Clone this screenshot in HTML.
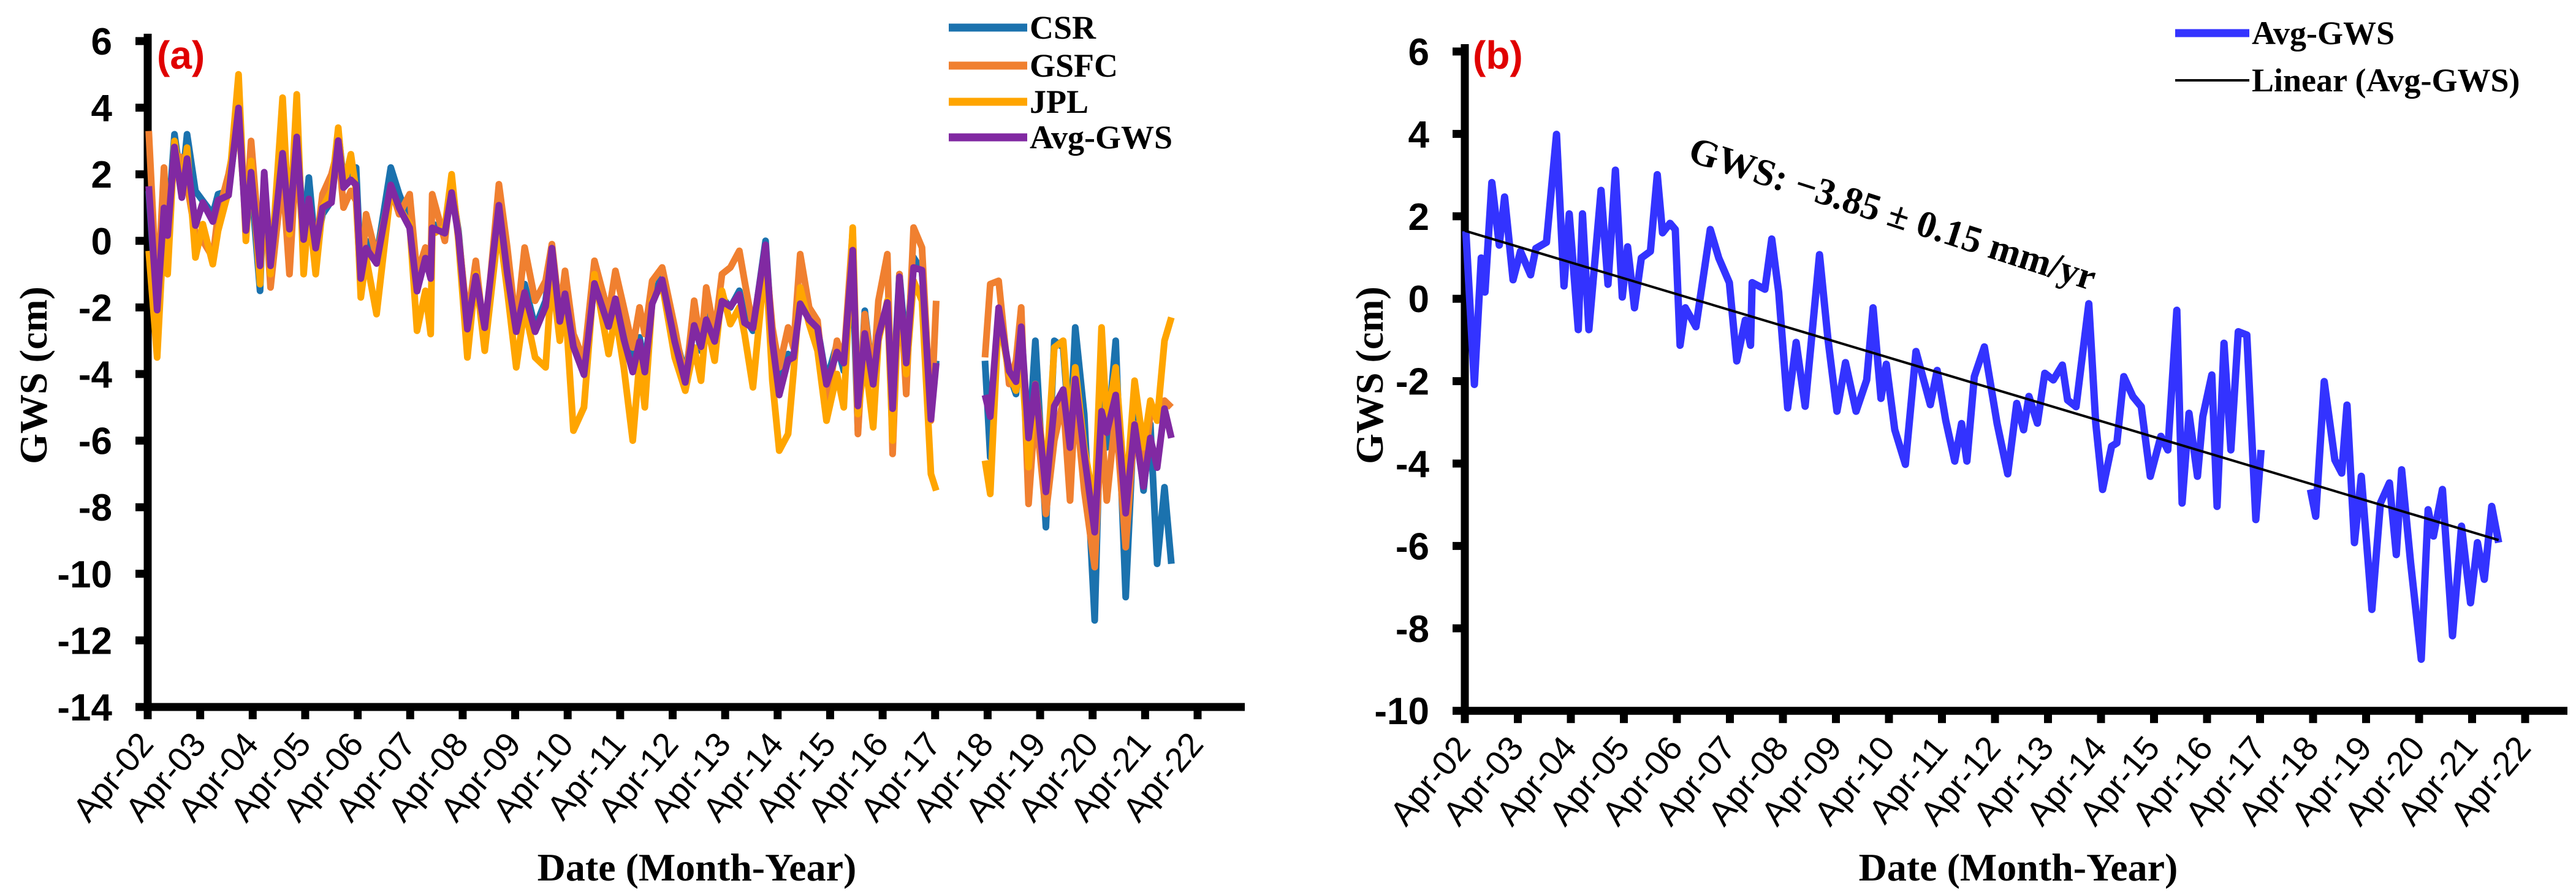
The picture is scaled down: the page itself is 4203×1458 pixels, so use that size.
<!DOCTYPE html>
<html><head><meta charset="utf-8"><style>
html,body{margin:0;padding:0;background:#fff;}
svg{display:block;}
.tk{font-family:"Liberation Sans",Arial,sans-serif;font-weight:bold;font-size:62px;}
.xt{font-family:"Liberation Sans",Arial,sans-serif;font-size:56px;}
.tt{font-family:"Liberation Serif","Times New Roman",serif;font-weight:bold;}
</style></head><body>
<svg id="chart" width="4203" height="1458" viewBox="0 0 4203 1458" xmlns="http://www.w3.org/2000/svg">
<g id="pa"></g>
<g id="pb"></g>
</svg>
<script>
const tYears=[0.02,0.18,0.31,0.38,0.51,0.65,0.75,0.91,1.05,1.24,
1.34,1.54,1.73,1.87,1.97,2.14,2.22,2.34,2.57,2.70,
2.84,2.97,3.07,3.20,3.33,3.50,3.63,3.73,3.87,3.97,
4.06,4.16,4.36,4.63,4.79,4.99,5.13,5.29,5.39,5.42,
5.66,5.79,5.92,6.09,6.25,6.42,6.69,6.85,7.02,7.18,
7.38,7.58,7.70,7.85,7.95,8.11,8.31,8.51,8.78,8.91,
9.07,9.24,9.37,9.47,9.61,9.80,10.04,10.24,10.41,10.54,
10.64,10.80,10.94,11.10,11.27,11.37,11.53,11.77,11.90,12.03,
12.20,12.30,12.43,12.60,12.76,12.93,13.13,13.26,13.43,13.53,
13.66,13.82,13.92,14.09,14.19,14.32,14.45,14.59,14.75,14.92,
15.02,15.95,16.05,16.21,16.41,16.54,16.64,16.78,16.91,17.11,
17.27,17.44,17.57,17.67,17.84,18.04,18.17,18.27,18.44,18.63,
18.80,18.97,19.10,19.23,19.37,19.50];
const avgGWS=[1.64,-2.08,0.99,0.16,2.82,1.30,2.47,0.46,1.15,0.58,
1.22,1.37,3.99,0.31,2.06,-0.75,2.06,-0.75,2.63,0.35,
3.12,0.04,1.26,-0.22,0.99,1.15,3.01,1.60,1.83,1.68,
-1.13,-0.22,-0.68,1.68,0.99,0.39,-1.51,-0.52,-1.13,0.39,
0.23,1.45,0.16,-2.65,-1.06,-2.61,1.07,-0.98,-2.73,-1.55,
-2.73,-1.97,-0.22,-2.42,-1.59,-3.18,-4.02,-1.28,-2.57,-1.74,
-2.95,-3.94,-3.03,-3.94,-1.89,-1.17,-3.03,-4.25,-2.54,-3.18,
-2.37,-3.02,-1.81,-1.97,-1.61,-2.46,-2.62,-0.12,-3.02,-4.63,
-3.58,-3.50,-1.89,-2.37,-2.62,-4.31,-3.34,-3.67,-0.28,-4.96,
-2.78,-4.31,-2.86,-1.85,-5.04,-1.08,-3.67,-0.80,-0.88,-5.36,
-3.67,-4.63,-5.28,-2.01,-3.91,-4.23,-2.58,-5.92,-4.31,-7.54,
-4.96,-4.47,-6.21,-4.15,-6.41,-8.75,-5.12,-5.76,-4.63,-8.18,
-5.52,-7.38,-5.92,-6.81,-5.04,-5.92];
const csrGWS=[1.5,-2.2,1.2,0.3,3.2,1.6,3.2,1.5,1.2,0.8,
1.4,1.5,3.8,0.5,1.8,-1.5,1.9,-0.9,2.5,0.6,
3.3,0.2,1.9,-0.3,0.8,1.2,3.3,1.8,2.0,2.2,
-0.9,0.0,-0.5,2.2,1.4,0.6,-1.3,-0.3,-0.8,0.5,
0.4,1.6,0.3,-2.6,-1.0,-3.2,0.8,-1.0,-2.5,-1.3,
-2.6,-1.8,-0.3,-2.2,-1.5,-3.0,-3.8,-1.2,-2.4,-1.8,
-2.8,-3.6,-2.9,-3.8,-1.8,-1.0,-2.8,-4.0,-2.3,-3.3,
-2.2,-3.1,-1.7,-2.0,-1.5,-2.3,-2.7,0.0,-3.0,-4.4,
-3.4,-3.6,-1.6,-2.2,-2.6,-4.2,-3.1,-3.9,-1.0,-5.7,
-2.1,-4.2,-2.6,-2.0,-4.8,-1.0,-3.4,-0.5,-0.9,-5.0,
-3.6,-3.6,-6.5,-2.1,-4.0,-4.6,-2.9,-6.2,-3.0,-8.6,
-3.0,-3.2,-6.0,-2.6,-5.2,-11.4,-4.0,-6.2,-3.0,-10.7,
-5.0,-7.5,-5.5,-9.7,-7.4,-9.7];
const gsfcGWS=[3.3,-1.8,2.2,0.0,2.6,2.5,1.7,0.2,0.0,-0.5,
0.8,2.0,3.6,0.6,3.0,-0.3,1.6,-1.4,2.0,-1.0,
2.8,-0.3,1.0,-0.3,1.4,2.0,2.8,1.0,1.5,1.2,
-1.4,0.8,-0.5,1.6,0.8,1.4,-1.0,-0.2,-0.8,1.4,
0.0,1.8,0.2,-2.4,-0.6,-3.0,1.7,-0.2,-2.6,-0.2,
-1.8,-1.2,-0.1,-2.2,-0.9,-2.8,-3.6,-0.6,-2.2,-0.9,
-2.0,-3.2,-2.0,-2.8,-1.2,-0.8,-2.6,-4.3,-1.8,-3.2,
-1.4,-2.8,-1.0,-0.8,-0.3,-1.2,-2.6,-0.4,-2.6,-3.8,
-2.6,-3.2,-0.4,-2.0,-2.4,-5.0,-3.0,-3.6,0.3,-5.8,
-2.2,-4.2,-1.8,-0.4,-6.4,-1.0,-4.6,0.4,-0.2,-5.4,
-1.8,-3.5,-1.3,-1.2,-4.3,-3.6,-2.0,-7.9,-5.0,-8.2,
-6.0,-4.8,-7.8,-4.7,-7.5,-9.8,-5.5,-7.8,-5.2,-9.2,
-5.5,-7.0,-5.2,-5.0,-4.8,-5.0];
const jplGWS=[-0.3,-3.5,0.5,-1.0,3.0,1.5,2.8,-0.5,0.5,-0.7,
0.3,1.5,5.0,0.0,2.4,-1.3,2.0,-1.0,4.3,0.2,
4.4,-1.0,1.0,-1.0,1.0,1.5,3.4,1.6,2.6,1.5,
-1.7,-0.5,-2.2,1.5,1.0,0.5,-2.7,-1.5,-2.8,0.2,
0.4,2.0,0.0,-3.5,-1.0,-3.3,0.5,-1.5,-3.8,-2.0,
-3.5,-3.8,-1.0,-3.0,-1.8,-5.7,-5.0,-1.0,-3.4,-2.2,
-3.8,-6.0,-3.6,-5.0,-1.8,-1.3,-3.5,-4.5,-3.2,-4.2,
-2.4,-3.6,-1.5,-2.5,-2.0,-2.8,-4.4,-0.5,-4.2,-6.3,
-5.8,-4.0,-1.4,-2.5,-3.3,-5.4,-4.0,-5.0,0.4,-5.2,
-3.5,-5.6,-3.0,-1.8,-6.0,-1.2,-4.0,-1.2,-1.8,-7.0,
-7.5,-6.6,-7.6,-2.2,-4.0,-4.5,-3.3,-6.8,-4.3,-7.2,
-3.2,-3.0,-5.8,-3.8,-6.2,-8.0,-2.6,-5.5,-3.8,-7.8,
-4.2,-6.2,-4.8,-5.4,-3.0,-2.3];
const xTickLabels=["Apr-02","Apr-03","Apr-04","Apr-05","Apr-06","Apr-07","Apr-08","Apr-09","Apr-10","Apr-11","Apr-12","Apr-13","Apr-14","Apr-15","Apr-16","Apr-17","Apr-18","Apr-19","Apr-20","Apr-21","Apr-22"];
const yTicksA=[6,4,2,0,-2,-4,-6,-8,-10,-12,-14];
const yTicksB=[6,4,2,0,-2,-4,-6,-8,-10];
const trendSlope=-0.385, trendIntercept=1.65; // cm/yr, cm

const NS="http://www.w3.org/2000/svg";
function mk(tag,attrs,parent){const e=document.createElementNS(NS,tag);for(const k in attrs)e.setAttribute(k,attrs[k]);parent.appendChild(e);return e;}

function drawPanel(g,cfg){
  const X=t=>cfg.x0+t*cfg.pxYr;
  const Y=v=>cfg.yTop+(cfg.vMax-v)*cfg.pxUnit;
  // axes
  const yax=mk('line',{x1:cfg.x0,y1:cfg.yTop-12,x2:cfg.x0,y2:Y(cfg.vMin)+6,stroke:'#000','stroke-width':13},g);
  
  
  const xax=mk('line',{x1:cfg.x0-6,y1:Y(cfg.vMin),x2:cfg.xEnd,y2:Y(cfg.vMin),stroke:'#000','stroke-width':13},g);
  
  
  cfg.yTicks.forEach(v=>{
    const tk=mk('line',{x1:cfg.x0-20,y1:Y(v),x2:cfg.x0,y2:Y(v),stroke:'#000','stroke-width':13},g);
    
    
    const tl=mk('text',{x:cfg.x0-58,y:Y(v)+22,'text-anchor':'end',class:'tk'},g);
    tl.textContent=v;
    
    
  });
  xTickLabels.forEach((lab,i)=>{
    const x=X(i);
    const tk=mk('line',{x1:x,y1:Y(cfg.vMin),x2:x,y2:Y(cfg.vMin)+20,stroke:'#000','stroke-width':13},g);
    
    
    const tl=mk('text',{x:0,y:0,'text-anchor':'end',class:'xt',transform:`translate(${x+12},${Y(cfg.vMin)+62}) rotate(-50)`},g);
    tl.textContent=lab;
    
    
  });
  cfg.series.forEach(s=>{
    let d='',prev=null;
    tYears.forEach((t,i)=>{
      const v=s.vals[i];
      const cmd=(prev===null||t-prev>0.5)?'M':'L';
      d+=cmd+X(t).toFixed(1)+' '+Y(v).toFixed(1)+' ';
      prev=t;
    });
    const p=mk('path',{d:d,fill:'none',stroke:s.color,'stroke-width':s.w,'stroke-linejoin':'round'},g);
    
    
  });
  return {X,Y};
}

const pa=document.getElementById('pa');
drawPanel(pa,{x0:241,pxYr:85.65,xEnd:2031,yTop:67,vMax:6,vMin:-14,pxUnit:54.3,yTicks:yTicksA,
  series:[{vals:csrGWS,color:'#1B72AE',w:11,name:'csr-line'},
          {vals:gsfcGWS,color:'#F08030',w:11,name:'gsfc-line'},
          {vals:jplGWS,color:'#FFA500',w:11,name:'jpl-line'},
          {vals:avgGWS,color:'#8129A2',w:11,name:'avg-gws-line'}]});
const pb=document.getElementById('pb');
const B=drawPanel(pb,{x0:2390,pxYr:86.5,xEnd:4189,yTop:84,vMax:6,vMin:-10,pxUnit:67.2,yTicks:yTicksB,
  series:[{vals:avgGWS,color:'#3333FF',w:12,name:'avg-gws-line-b'}]});
const tr=mk('line',{x1:B.X(0),y1:B.Y(trendIntercept),x2:B.X(19.5),y2:B.Y(trendIntercept+trendSlope*19.5),stroke:'#000','stroke-width':4},pb);


</script>
<svg width="0" height="0"></svg>
<script>
(function(){
const svg=document.getElementById('chart');
const NS="http://www.w3.org/2000/svg";
const html=`
<text x="256" y="112" fill="#E00000" font-family="Liberation Sans, Arial, sans-serif" font-weight="bold" font-size="64">(a)</text>
<text x="2403" y="112" fill="#E00000" font-family="Liberation Sans, Arial, sans-serif" font-weight="bold" font-size="64">(b)</text>
<g>
<line x1="1548" y1="45" x2="1676" y2="45" stroke="#1B72AE" stroke-width="13"/>
<text x="1680" y="63" class="tt" font-size="54">CSR</text>
<line x1="1548" y1="107" x2="1676" y2="107" stroke="#F08030" stroke-width="13"/>
<text x="1680" y="125" class="tt" font-size="54">GSFC</text>
<line x1="1548" y1="166" x2="1676" y2="166" stroke="#FFA500" stroke-width="13"/>
<text x="1680" y="184" class="tt" font-size="54">JPL</text>
<line x1="1548" y1="224" x2="1676" y2="224" stroke="#8129A2" stroke-width="13"/>
<text x="1680" y="242" class="tt" font-size="54">Avg-GWS</text>
</g>
<g>
<line x1="3549" y1="54" x2="3670" y2="54" stroke="#3333FF" stroke-width="13"/>
<text x="3674" y="72" class="tt" font-size="54">Avg-GWS</text>
<line x1="3549" y1="131" x2="3670" y2="131" stroke="#000" stroke-width="4"/>
<text x="3674" y="149" class="tt" font-size="54">Linear (Avg-GWS)</text>
</g>
<text x="0" y="0" class="tt" font-size="62" transform="translate(2752,262) rotate(17.8)">GWS:  −3.85 ± 0.15 mm/yr</text>
<text x="1137" y="1436" class="tt" font-size="64" text-anchor="middle">Date (Month-Year)</text>
<text x="3293" y="1436" class="tt" font-size="64" text-anchor="middle">Date (Month-Year)</text>
<text x="0" y="0" class="tt" font-size="64" text-anchor="middle" transform="translate(76,612) rotate(-90)">GWS  (cm)</text>
<text x="0" y="0" class="tt" font-size="64" text-anchor="middle" transform="translate(2256,612) rotate(-90)">GWS  (cm)</text>`;
const tmp=document.createElementNS(NS,'g');
tmp.innerHTML=html;
while(tmp.firstChild){svg.appendChild(tmp.firstChild);}
})();
</script>
</body></html>
